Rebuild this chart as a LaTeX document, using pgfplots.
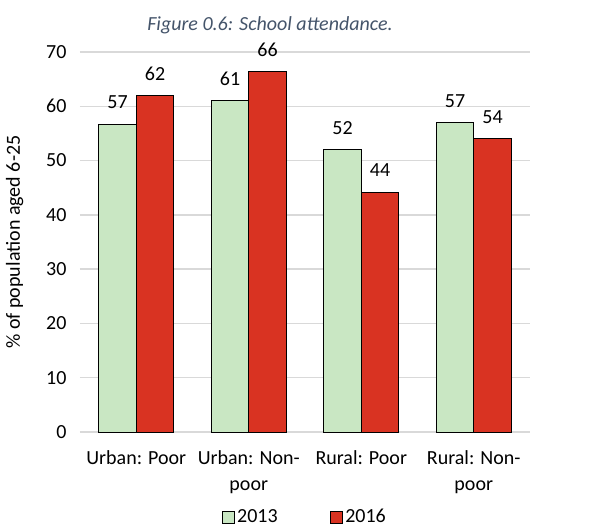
\documentclass[border=0pt]{standalone}
\usepackage{pgfplots}
\pgfplotsset{compat=1.18}
\usepackage{fontspec}
\setmainfont{Carlito}
\definecolor{g13}{HTML}{C9E7C3}
\definecolor{r16}{HTML}{D93322}
\definecolor{ttl}{HTML}{44546A}
\definecolor{grd}{HTML}{D9D9D9}
\newcommand{\ff}{\fontsize{15pt}{18pt}\selectfont}
\begin{document}
\ff
\begin{tikzpicture}[x=1pt,y=1pt]
\path[use as bounding box] (-60,-72.75) rectangle (390,324);
\begin{axis}[
  at={(0,0)}, anchor=south west,
  scale only axis, width=337.5pt, height=285pt,
  ymin=0, ymax=70, ytick={0,10,...,70},
  xmin=-0.5, xmax=3.5, xtick={0,1,2,3},
  xticklabels={Urban: Poor, {Urban: Non-\\poor}, Rural: Poor, {Rural: Non-\\poor}},
  xticklabel style={align=center, font=\fontsize{15pt}{19pt}\selectfont, yshift=-9pt},
  yticklabel style={font=\ff, xshift=-5pt},
  /pgf/number format/assume math mode=true,
  ybar=0pt, bar width=28.125pt,
  ymajorgrids, grid style={grd, line width=1pt},
  axis line style={draw=none},
  major tick length=0pt,
  ylabel={\% of population aged 6-25},
  ylabel style={at={(axis description cs:-0.145,0.5)}, anchor=center, font=\ff},
  nodes near coords={\pgfmathprintnumber[fixed,precision=0]{\pgfplotspointmeta}},
  nodes near coords style={font=\ff, text=black, yshift=6pt},
  legend columns=2,
  legend style={at={(0.5,-0.224)}, anchor=center, draw=none, fill=none,
    font=\ff,
    /tikz/every even column/.append style={column sep=38pt},
    nodes={inner sep=1.5pt}},
  legend image code/.code={\draw[#1] (0pt,-4.5pt) rectangle (9pt,4.5pt);},
]
\addplot[fill=g13, draw=black, line width=0.7pt] coordinates {(0,56.7) (1,61.1) (2,52.0) (3,57.0)};
\addplot[fill=r16, draw=black, line width=0.7pt] coordinates {(0,62.0) (1,66.4) (2,44.2) (3,54.1)};
\legend{2013,2016}
\end{axis}
\node[text=ttl, font=\ff\itshape] at (142.5,305.25) {Figure 0.6: School attendance.};
\end{tikzpicture}
\end{document}
